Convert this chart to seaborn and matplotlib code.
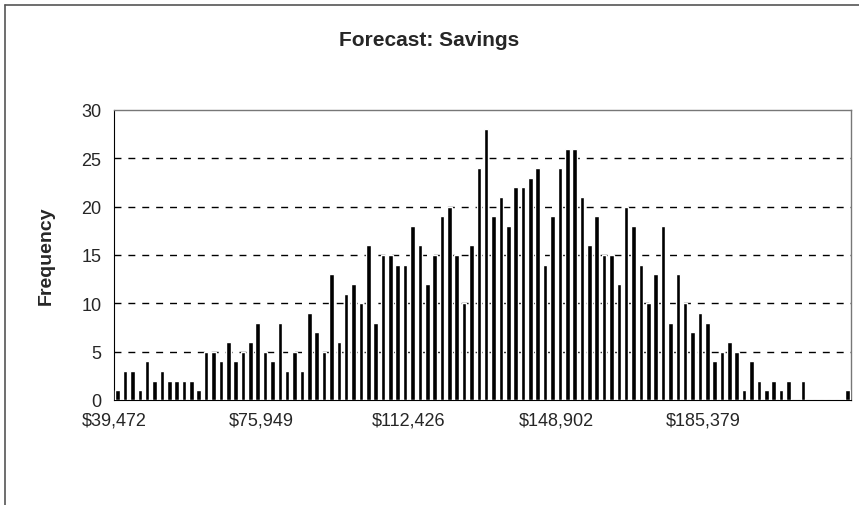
import numpy as np
import pandas as pd
import matplotlib
matplotlib.use("Agg")
import matplotlib.pyplot as plt
from matplotlib.lines import Line2D
import seaborn as sns

# frequencies per cell (100 cells)
freq = [1, 3, 3, 1, 4, 2, 3, 2, 2, 2, 2, 1, 5, 5, 4, 6, 4, 5, 6, 8, 5,
        4, 8, 3, 5, 3, 9, 7, 5, 13, 6, 11, 12, 10, 16, 8,
        15, 15, 14, 14, 18, 16, 12, 15, 19, 20, 15, 10, 16, 24, 28,
        19, 21, 18, 22, 22, 23, 24, 14, 19, 24, 26, 26, 21, 16, 19, 15,
        15, 12, 20, 18, 14, 10, 13, 18, 8, 13, 10, 7, 9, 8, 4, 5,
        6, 5, 1, 4, 2, 1, 2, 1, 2, 0, 2, 0, 0, 0, 0, 0, 1]
cells = list(range(len(freq)))
tick_cells = [0, 20, 40, 60, 80, 100]
tick_labels = ["$39,472", "$75,949", "$112,426", "$148,902", "$185,379", ""]
y_ticks = [0, 5, 10, 15, 20, 25, 30]

df = pd.DataFrame({"cell": cells, "Frequency": freq})

sns.set_style("white")
plt.rcParams['font.family'] = ['Liberation Sans', 'DejaVu Sans']

fig = plt.figure(figsize=(8.59, 5.06), dpi=100)
ax = fig.add_axes([114 / 859, 1 - 401 / 506, 737 / 859, 290 / 506])

sns.barplot(data=df, x="cell", y="Frequency", color="black", width=0.62,
            saturation=1, ax=ax, zorder=3)

ax.set_xlim(-0.5, 99.5)
ax.set_ylim(0, 30)
ax.set_xticks([c - 0.5 for c in tick_cells])
ax.set_xticklabels(tick_labels, fontsize=13)
ax.set_yticks(y_ticks)
ax.set_yticklabels([str(v) for v in y_ticks], fontsize=13)
ax.set_xlabel("")
ax.set_ylabel("Frequency", fontsize=14, fontweight="bold", labelpad=19)

for v in y_ticks[1:-1]:
    ax.axhline(v, color="black", linestyle=(0, (5, 5)), linewidth=1, zorder=1)

for side in ["top", "right"]:
    ax.spines[side].set_color("#777777")
    ax.spines[side].set_linewidth(1)
ax.spines["left"].set_color("black")
ax.spines["bottom"].set_color("black")
ax.tick_params(axis="y", direction="out", length=5, width=1, color="black", pad=4)
ax.tick_params(axis="x", direction="inout", length=6, width=1, color="black", pad=5)

fig.text(0.5, 1 - 40 / 506, "Forecast: Savings", ha="center", va="center",
         fontsize=15, fontweight="bold")

# outer chart frame
fig.add_artist(Line2D([5 / 859, 1], [1 - 6 / 506, 1 - 6 / 506], color="#555555", lw=1.2))
fig.add_artist(Line2D([5 / 859, 5 / 859], [0, 1 - 6 / 506], color="#555555", lw=1.2))

fig.savefig("out.png", dpi=100, facecolor="white")
